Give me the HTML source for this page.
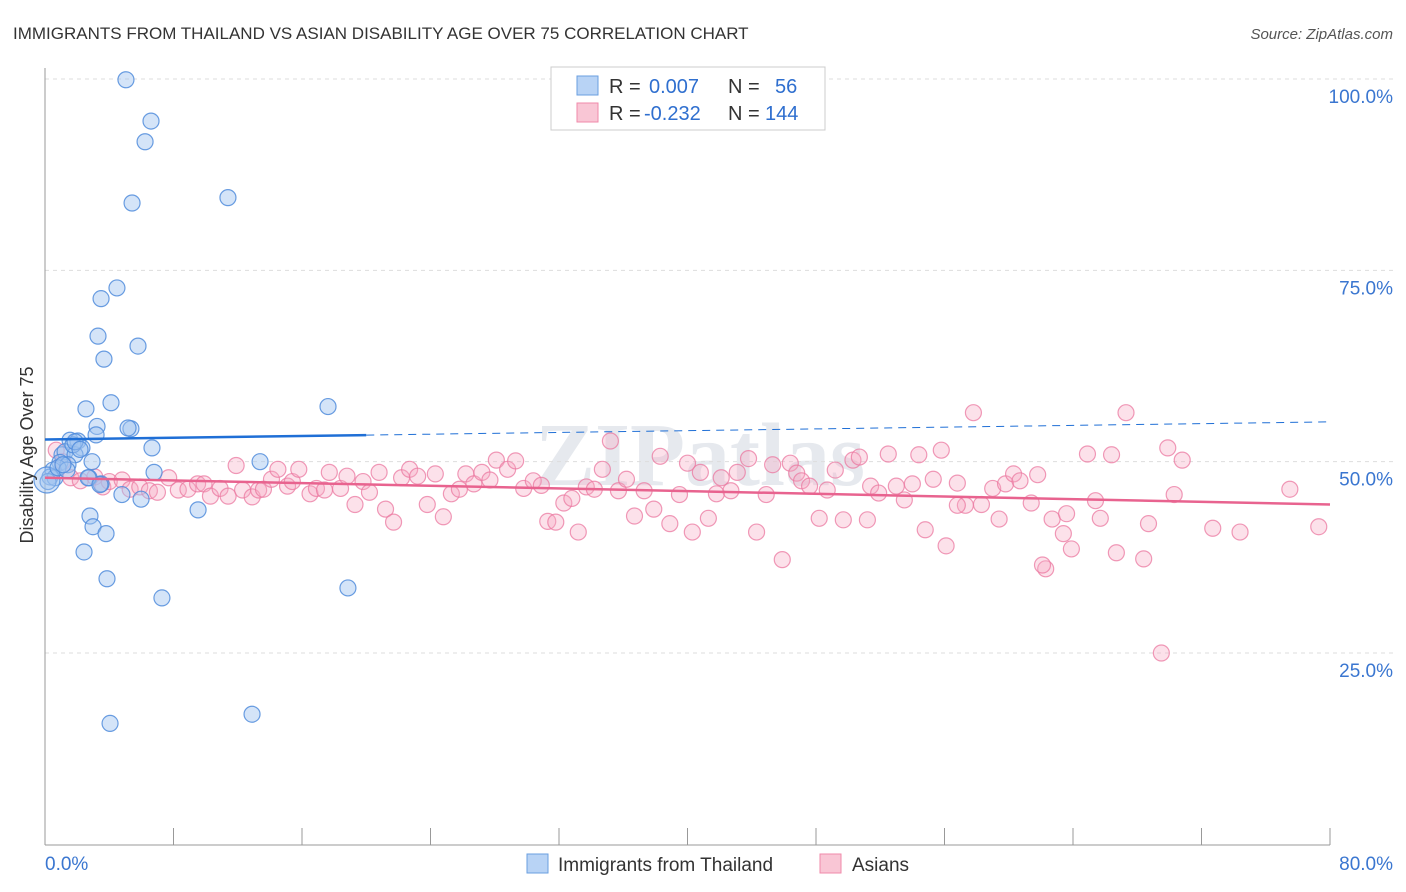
<!DOCTYPE html>
<html><head><meta charset="utf-8"><style>
body{margin:0;background:#fff;font-family:"Liberation Sans",sans-serif;}
svg{display:block}
</style></head><body>
<svg id="chart" width="1406" height="892">
<text x="13" y="39" font-size="17" fill="#333">IMMIGRANTS FROM THAILAND VS ASIAN DISABILITY AGE OVER 75 CORRELATION CHART</text>
<text x="1393" y="39" font-size="15" fill="#555" text-anchor="end" font-style="italic">Source: ZipAtlas.com</text>
<text x="700" y="485" font-size="90" fill="#e6e9ee" text-anchor="middle" font-weight="bold" font-family="Liberation Serif,serif">ZIPatlas</text>
<g id="grid"></g><g id="axes"></g><g id="pts"></g><g id="trend"></g>
<text transform="translate(33,455) rotate(-90)" font-size="18" fill="#333" text-anchor="middle">Disability Age Over 75</text>
<g>
<rect x="551" y="67" width="274" height="63" fill="#fff" stroke="#ccc"/>
<rect x="577" y="76" width="21" height="19" fill="#b8d3f5" stroke="#6a9fe0"/>
<rect x="577" y="103" width="21" height="19" fill="#f9c6d5" stroke="#f08aaa"/>
<text x="609" y="93" font-size="20" fill="#333">R = </text><text x="649" y="93" font-size="20" fill="#2f6fcf">0.007</text>
<text x="728" y="93" font-size="20" fill="#333">N = </text><text x="775" y="93" font-size="20" fill="#2f6fcf">56</text>
<text x="609" y="120" font-size="20" fill="#333">R = </text><text x="644" y="120" font-size="20" fill="#2f6fcf">-0.232</text>
<text x="728" y="120" font-size="20" fill="#333">N = </text><text x="765" y="120" font-size="20" fill="#2f6fcf">144</text>
</g>
<g>
<rect x="527" y="854" width="21" height="19" fill="#b8d3f5" stroke="#6a9fe0"/>
<text x="558" y="871" font-size="19" fill="#333">Immigrants from Thailand</text>
<rect x="820" y="854" width="21" height="19" fill="#f9c6d5" stroke="#f08aaa"/>
<text x="852" y="871" font-size="19" fill="#333">Asians</text>
</g>
</svg>
<script>
const yTicks=[25,50,75,100];
const yTickLabels=["25.0%","50.0%","75.0%","100.0%"];
const xMin=0,xMax=80;
const blueX=[5.04,6.6,6.23,5.42,11.39,4.48,3.49,3.3,3.67,5.79,4.11,2.55,17.62,3.24,3.18,5.35,5.17,1.56,2.05,2.3,1.06,1.25,1.87,6.66,2.93,0.93,0.5,0.31,0.62,0.19,1.43,2.74,3.49,6.79,4.79,5.98,13.39,9.53,2.8,2.99,3.8,2.43,3.86,7.28,18.86,4.05,12.89,0.12,0.81,1.74,1.37,2.68,3.42,1.87,1.12,2.18];
const blueY=[99.9,94.5,91.8,83.8,84.5,72.7,71.3,66.4,63.4,65.1,57.7,56.9,57.2,54.6,53.5,54.3,54.4,52.8,52.7,51.8,50.9,51.3,50.9,51.8,50,49.9,48.9,48,47.9,47.4,49.6,47.9,47.1,48.6,45.7,45.1,50,43.7,42.9,41.5,40.6,38.2,34.7,32.2,33.5,15.8,17,47.6,49.2,52.2,48.9,47.9,47,52.6,49.6,51.6];
const pinkX=[0.7,1.1,1.6,2.2,3.1,3.6,4.0,4.8,5.3,5.9,6.5,7.0,7.7,8.3,8.9,9.5,9.9,10.3,10.9,11.4,11.9,12.3,12.9,13.3,13.6,14.1,14.5,15.1,15.4,15.8,16.5,16.9,17.4,17.7,18.4,18.8,19.3,19.8,20.2,20.8,21.2,21.7,22.2,22.7,23.2,23.8,24.3,24.8,25.3,25.8,26.2,26.7,27.2,27.7,28.1,28.8,29.3,29.8,30.4,30.9,31.3,31.8,32.3,32.8,33.2,33.7,34.2,34.7,35.2,35.7,36.2,36.7,37.3,37.9,38.3,38.9,39.5,40.0,40.3,40.8,41.3,41.8,42.1,42.7,43.1,43.8,44.3,44.9,45.3,45.9,46.4,46.8,47.1,47.6,48.2,48.7,49.2,49.7,50.3,50.7,51.4,51.9,52.5,53.0,53.5,54.0,54.4,54.8,55.3,55.8,56.1,56.8,57.3,57.8,58.3,59.0,59.4,59.8,60.3,60.7,61.4,61.8,62.3,62.7,63.4,63.9,64.9,65.4,65.7,66.4,66.7,67.3,68.4,68.7,69.5,69.9,70.3,70.8,72.7,74.4,77.5,79.3,63.6,62.1,56.8,51.2];
const pinkY=[51.5,50.0,47.9,47.5,48.0,46.7,47.4,47.6,46.4,46.7,46.2,46.0,47.9,46.3,46.4,47.1,47.1,45.5,46.5,45.5,49.5,46.3,45.4,46.3,46.4,47.7,49.0,46.8,47.4,49.0,45.8,46.5,46.3,48.6,46.5,48.1,44.4,47.4,46.0,48.6,43.8,42.1,47.9,49.0,48.1,44.4,48.4,42.8,45.8,46.4,48.4,47.1,48.6,47.6,50.2,49.0,50.1,46.5,47.5,46.9,42.2,42.1,44.6,45.2,40.8,46.7,46.4,49.0,52.7,46.2,47.7,42.9,46.2,43.8,50.7,41.9,45.7,49.8,40.8,48.6,42.6,45.8,47.9,46.2,48.6,50.4,40.8,45.7,49.6,37.2,49.8,48.5,47.5,46.8,42.6,46.3,48.9,42.4,50.2,50.6,46.8,45.9,51.0,46.8,45.0,47.1,50.9,41.1,47.7,51.5,39.0,47.2,44.3,56.4,44.4,46.5,42.5,47.1,48.4,47.5,44.6,48.3,36.0,42.5,40.6,38.6,51.0,44.9,42.6,50.9,38.1,56.4,37.3,41.9,25.0,51.8,45.7,50.2,41.3,40.8,46.4,41.5,43.2,36.5,44.3,42.4];
const blueTrend=[52.9,55.2], pinkTrend=[47.9,44.4];
const X0=45,X1=1330,Y100=79,Y25=653;
const sx=v=>X0+(v-xMin)/(xMax-xMin)*(X1-X0);
const sy=v=>Y25-(v-25)/75*(Y25-Y100);
const NS="http://www.w3.org/2000/svg";
function mk(tag,attrs,parent){const e=document.createElementNS(NS,tag);for(const k in attrs)e.setAttribute(k,attrs[k]);document.getElementById(parent).appendChild(e);return e;}
yTicks.forEach((t,i)=>{
 const l=mk('line',{x1:X0,x2:1393,y1:sy(t),y2:sy(t),stroke:'#ddd','stroke-dasharray':'4,4'},'grid');
 
 
 const tx=mk('text',{x:1393,y:sy(t)+24,'font-size':19,fill:'#3a76d0','text-anchor':'end'},'grid');
 tx.textContent=yTickLabels[i];
 
 
});
const ax=mk('line',{x1:X0,x2:X0,y1:68,y2:845,stroke:'#999'},'axes');


const bx=mk('line',{x1:X0,x2:X1,y1:845,y2:845,stroke:'#999'},'axes');


for(let i=0;i<=10;i++){const v=xMin+i*(xMax-xMin)/10;
 const t=mk('line',{x1:sx(v),x2:sx(v),y1:828,y2:845,stroke:'#999'},'axes');
 
 }
const xl=mk('text',{x:45,y:870,'font-size':19,fill:'#3a76d0'},'axes');xl.textContent=xMin.toFixed(1)+'%';


const xr=mk('text',{x:1393,y:870,'font-size':19,fill:'#3a76d0','text-anchor':'end'},'axes');xr.textContent=xMax.toFixed(1)+'%';


pinkX.forEach((x,i)=>{const c=mk('circle',{cx:sx(x),cy:sy(pinkY[i]),r:8,fill:'rgba(246,170,195,0.35)',stroke:'rgba(235,120,160,0.75)','stroke-width':1.2},'pts');
 
 });
blueX.forEach((x,i)=>{const c=mk('circle',{cx:sx(x),cy:sy(blueY[i]),r:i==47?13:8,fill:'rgba(160,196,240,0.45)',stroke:'rgba(80,140,220,0.85)','stroke-width':1.2},'pts');
 
 });
const bAt=x=>blueTrend[0]+(blueTrend[1]-blueTrend[0])*(x-xMin)/(xMax-xMin);
const b1=mk('line',{x1:sx(0),y1:sy(bAt(0)),x2:sx(20),y2:sy(bAt(20)),stroke:'#1f6fd6','stroke-width':2.5},'trend');


const b2=mk('line',{x1:sx(20),y1:sy(bAt(20)),x2:sx(80),y2:sy(bAt(80)),stroke:'#1f6fd6','stroke-width':1,'stroke-dasharray':'8,6'},'trend');


const p=mk('line',{x1:sx(0),y1:sy(pinkTrend[0]),x2:sx(80),y2:sy(pinkTrend[1]),stroke:'#e8638f','stroke-width':2.5},'trend');


</script>
</body></html>
